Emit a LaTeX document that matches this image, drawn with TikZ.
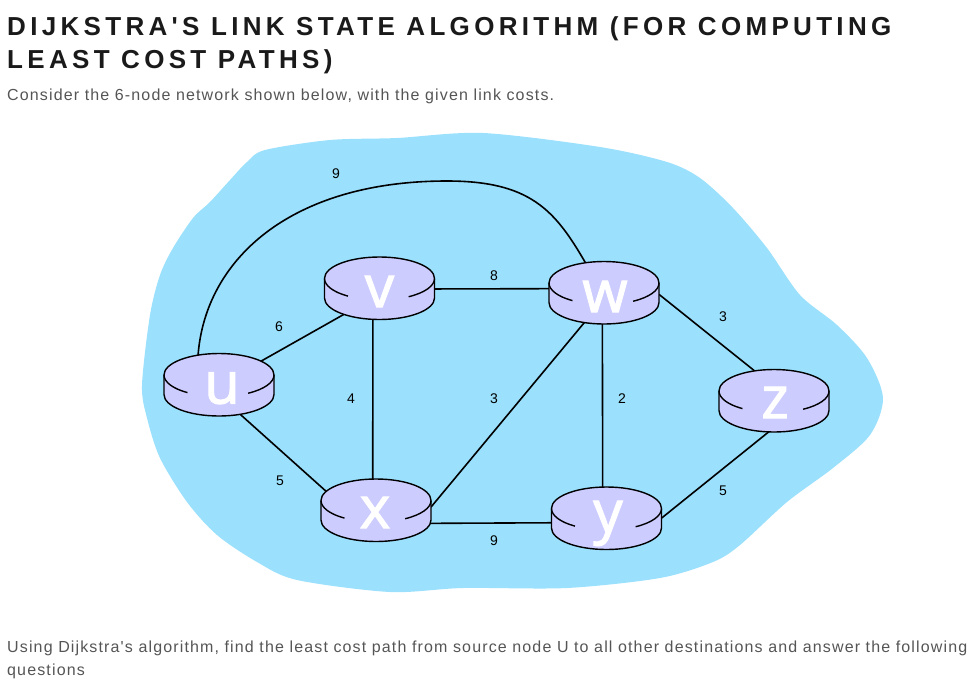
\documentclass[tikz,border=0pt]{standalone}
\usepackage{fontspec}
\usepackage{xcolor}
\usepackage{tikz}
\usetikzlibrary{shapes.geometric}
\usetikzlibrary{backgrounds}
\setmainfont{Liberation Sans}
\newfontfamily\titlefont[LetterSpace=16.6]{Liberation Sans}
\newfontfamily\bodyfont[LetterSpace=7.15]{Liberation Sans}
\newfontfamily\routerfont[FakeBold=2]{Open Sans}
\definecolor{cloudblue}{HTML}{9BE0FC}
\definecolor{routerfill}{HTML}{CCCCFF}
\definecolor{titlegray}{HTML}{1A1A1A}
\definecolor{bodygray}{HTML}{555555}

\begin{document}
\begin{tikzpicture}[x=1pt,y=1pt,yscale=-1]
	\tikzstyle{router}=[ellipse, minimum width=110pt, minimum height=62pt, inner sep=0pt]
	\tikzstyle{routerbody}=[fill=routerfill, draw=black, line width=1.4pt]
	\tikzstyle{routerletter}=[anchor=base, inner sep=0pt, text=white, font=\routerfont\fontsize{58}{58}\selectfont]
	\tikzstyle{link}=[draw=black, line width=1.6pt]
	\tikzstyle{cost}=[inner sep=0pt, font=\fontsize{14}{14}\selectfont, text=black]
	\tikzstyle{titletext}=[anchor=base west, inner sep=0pt, text=titlegray, font=\titlefont\bfseries\fontsize{26}{30}\selectfont]
	\tikzstyle{bodytext}=[anchor=base west, inner sep=0pt, text=bodygray, font=\bodyfont\fontsize{16}{20}\selectfont]
	\useasboundingbox (0,0) rectangle (978,691);

	\node[titletext] (title1) at (7,35) {DIJKSTRA'S LINK STATE ALGORITHM (FOR COMPUTING};
	\node[titletext] (title2) at (7,68) {LEAST COST PATHS)};
	\node[bodytext] (intro) at (7,100) {Consider the 6-node network shown below, with the given link costs.};
	\node[bodytext] (task1) at (7,652) {Using Dijkstra's algorithm, find the least cost path from source node U to all other destinations and answer the following};
	\node[bodytext] (task2) at (7,675) {questions};

	\foreach \name/\px/\py/\lx/\ly in {u/219/384.5/3/19, v/379.5/288/0/19, w/604/292.5/1/19.5, z/774/400.5/1/17.5, y/606.5/518/1.5/14, x/376/510/-1/18}
	{
		\begin{scope}[shift={(\px,\py)}]
			\filldraw[routerbody] (-55,-9.5) -- (-55,10) arc[start angle=180, end angle=0, x radius=55, y radius=21.5] -- (55,-9.5) arc[start angle=0, end angle=-180, x radius=55, y radius=21.5] -- cycle;
			\draw[routerbody, fill=none] (-55,-9.5) arc[start angle=180, end angle=125, x radius=55, y radius=21.5];
			\draw[routerbody, fill=none] (55,-9.5) arc[start angle=0, end angle=58, x radius=55, y radius=21.5];
			\node[router] (\name) at (0,0) {};
			\node[routerletter] (\name letter) at (\lx,\ly) {\name};
		\end{scope}
	}

	\node[cost] (costuw) at (336,174) {9};
	\node[cost] (costuv) at (279,327) {6};
	\node[cost] (costvw) at (494,276) {8};
	\node[cost] (costwz) at (723,317) {3};
	\node[cost] (costvx) at (351,399) {4};
	\node[cost] (costwx) at (494,399) {3};
	\node[cost] (costwy) at (622,399) {2};
	\node[cost] (costux) at (280,481) {5};
	\node[cost] (costyz) at (723,491) {5};
	\node[cost] (costxy) at (494,541) {9};

	\begin{scope}[on background layer]
		\fill[cloudblue] plot[smooth cycle, tension=0.5] coordinates {(265,150) (330,140) (397,138) (483,133) (600,147) (667,162) (700,178) (733,208) (767,248) (800,295) (837,325) (867,358) (883,398) (870,435) (833,468) (787,502) (740,545) (713,562) (660,578) (567,588) (463,588) (390,592) (297,580) (257,562) (217,535) (187,502) (160,458) (147,418) (142,385) (150,315) (160,275) (173,248) (193,218) (210,202) (230,180) (247,162)};
		\draw[link] (u.126) .. controls (205,260) and (290,181) .. (447,181) .. controls (530,181) and (555,210) .. (w.122);
		\draw[link] (u.29) -- (v.217);
		\draw[link] (u.-55) -- (x.161);
		\draw[link] (v.258) -- (x.96);
		\draw[link] (v.-1.4) -- (w.176.5);
		\draw[link] (w.237) -- (x.3);
		\draw[link] (w.267) -- (y.97.7);
		\draw[link] (w.-2) -- (z.123.7);
		\draw[link] (x.-15) -- (y.185.6);
		\draw[link] (y.0) -- (z.261);
	\end{scope}
\end{tikzpicture}
\end{document}
